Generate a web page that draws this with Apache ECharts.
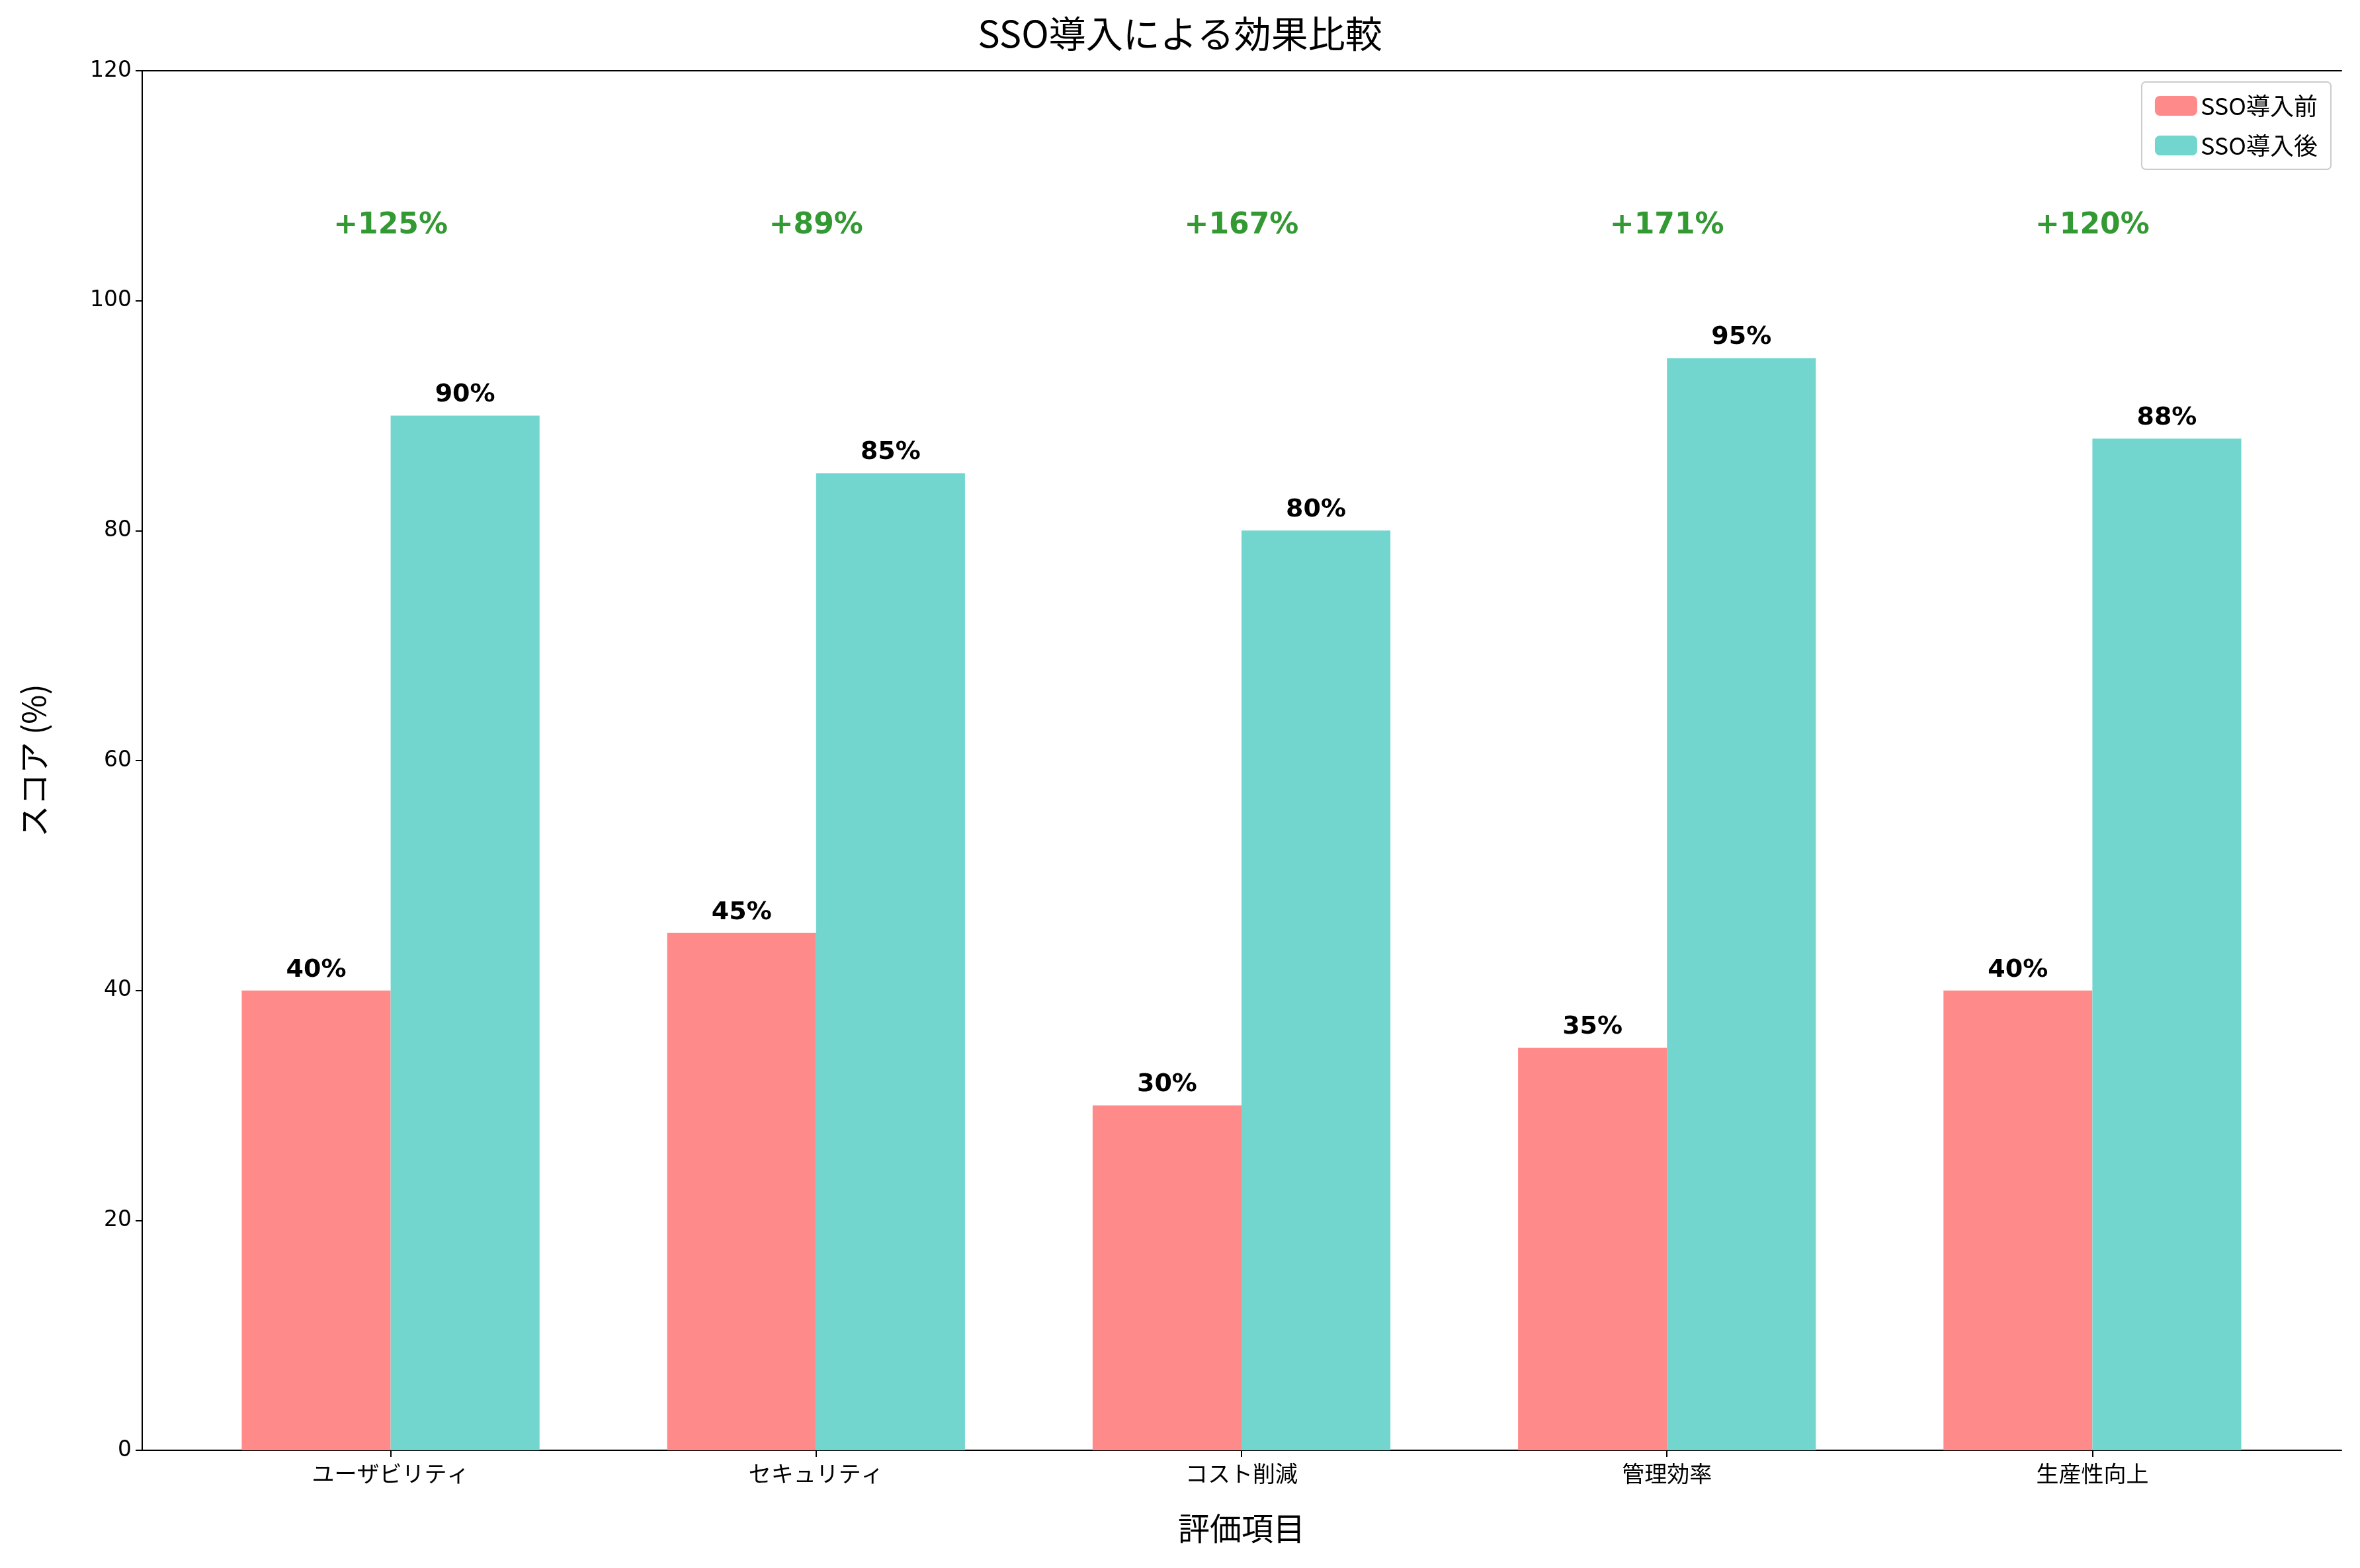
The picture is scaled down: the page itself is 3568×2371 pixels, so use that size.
<!DOCTYPE html>
<html>
<head>
<meta charset="utf-8">
<script src="https://cdn.jsdelivr.net/npm/echarts@6/dist/echarts.min.js"></script>
<style>html,body{margin:0;padding:0;background:#fff}#chart{width:3568px;height:2371px}</style>
</head>
<body>
<div id="chart"></div>
<script>
var categories = ['ユーザビリティ', 'セキュリティ', 'コスト削減', '管理効率', '生産性向上'];
var before = [40, 45, 30, 35, 40];
var after = [90, 85, 80, 95, 88];
var improvement = ['+125%', '+89%', '+167%', '+171%', '+120%'];
var improvementY = [106.5, 106.5, 106.5, 106.5, 106.5];
var yTicks = [0, 20, 40, 60, 80, 100, 120];

var font = '"Noto Sans CJK JP", "DejaVu Sans", sans-serif';
var myChart = echarts.init(document.getElementById('chart'));

var valueLabel = {
    show: true,
    position: 'top',
    distance: 12,
    formatter: '{c}%',
    fontFamily: 'DejaVu Sans',
    fontWeight: 'bold',
    fontSize: 38,
    color: '#000'
};

var option = {
    backgroundColor: '#fff',
    animation: false,
    textStyle: {fontFamily: font},
    title: {
        text: 'SSO導入による効果比較',
        left: 'center',
        top: 18,
        textStyle: {fontFamily: font, fontSize: 56, fontWeight: 'normal', color: '#000'}
    },
    legend: {
        orient: 'vertical',
        right: 44,
        top: 124,
        itemWidth: 64,
        itemHeight: 30,
        itemGap: 24,
        padding: [18, 20],
        borderColor: '#cccccc',
        borderWidth: 2,
        borderRadius: 6,
        textStyle: {fontFamily: font, fontSize: 36, color: '#000'},
        data: ['SSO導入前', 'SSO導入後']
    },
    grid: [
        {left: 269, right: 83, top: 107, bottom: 178},
        {left: 215, right: 28, top: 107, bottom: 178}
    ],
    xAxis: [
        {
            type: 'category',
            gridIndex: 0,
            data: categories,
            axisLine: {show: false},
            axisTick: {show: true, alignWithLabel: true, length: 10, lineStyle: {color: '#000', width: 2}},
            axisLabel: {fontFamily: font, fontSize: 34, color: '#000', margin: 18},
            name: '評価項目',
            nameLocation: 'middle',
            nameGap: 94,
            nameTextStyle: {fontFamily: font, fontSize: 48, color: '#000'}
        },
        {
            type: 'value', gridIndex: 1, min: 0, max: 1,
            axisLine: {show: true, onZero: false, lineStyle: {color: '#000', width: 2}},
            axisTick: {show: false}, axisLabel: {show: false}, splitLine: {show: false}
        },
        {
            type: 'value', gridIndex: 1, min: 0, max: 1, position: 'top',
            axisLine: {show: true, onZero: false, lineStyle: {color: '#000', width: 2}},
            axisTick: {show: false}, axisLabel: {show: false}, splitLine: {show: false}
        }
    ],
    yAxis: [
        {
            type: 'value', gridIndex: 0, min: 0, max: 120, interval: 20,
            show: false
        },
        {
            type: 'value', gridIndex: 1, min: yTicks[0], max: yTicks[yTicks.length - 1], interval: 20,
            axisLine: {show: true, lineStyle: {color: '#000', width: 2}},
            axisTick: {show: true, length: 10, lineStyle: {color: '#000', width: 2}},
            axisLabel: {fontFamily: 'DejaVu Sans', fontSize: 33, color: '#000', margin: 16},
            splitLine: {show: false},
            name: 'スコア (%)',
            nameLocation: 'middle',
            nameGap: 140,
            nameTextStyle: {fontFamily: font, fontSize: 48, color: '#000'}
        },
        {
            type: 'value', gridIndex: 1, min: 0, max: 120, position: 'right',
            axisLine: {show: true, lineStyle: {color: '#000', width: 2}},
            axisTick: {show: false}, axisLabel: {show: false}, splitLine: {show: false}
        }
    ],
    series: [
        {
            name: 'SSO導入前',
            type: 'bar',
            xAxisIndex: 0, yAxisIndex: 0,
            barWidth: '35%',
            barGap: 0,
            itemStyle: {color: '#ff8a8a'},
            label: valueLabel,
            data: before
        },
        {
            name: 'SSO導入後',
            type: 'bar',
            xAxisIndex: 0, yAxisIndex: 0,
            barWidth: '35%',
            itemStyle: {color: '#72d6cf'},
            label: valueLabel,
            data: after
        },
        {
            name: 'improvement',
            type: 'scatter',
            xAxisIndex: 0, yAxisIndex: 0,
            symbolSize: 1,
            itemStyle: {color: 'rgba(0,0,0,0)'},
            label: {
                show: true,
                position: 'inside',
                formatter: function (p) { return improvement[p.dataIndex]; },
                fontFamily: 'DejaVu Sans',
                fontWeight: 'bold',
                fontSize: 44,
                color: '#008000'
            },
            data: improvementY
        }
    ]
};
myChart.setOption(option);
</script>
</body>
</html>
